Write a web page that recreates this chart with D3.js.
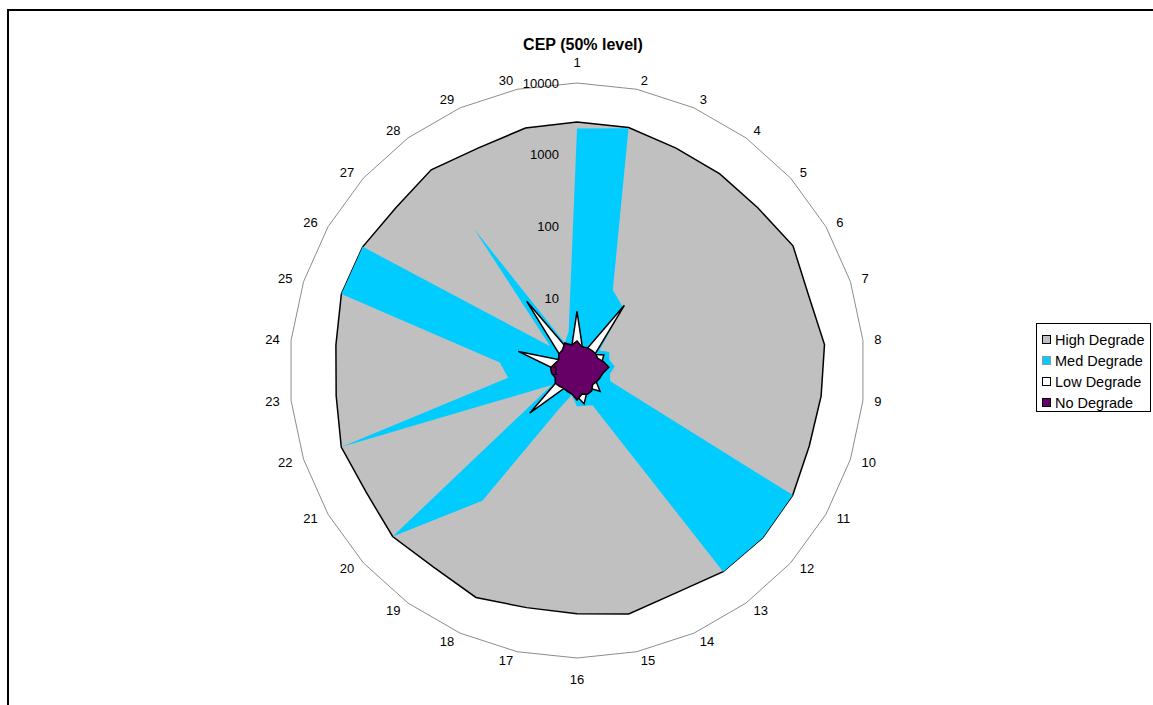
<!DOCTYPE html>
<html>
<head>
<meta charset="utf-8">
<script src="https://cdn.jsdelivr.net/npm/d3@7/dist/d3.min.js"></script>
<style>
  html, body { margin: 0; padding: 0; background: #ffffff; }
  svg { display: block; }
  text { font-family: "Liberation Sans", Arial, sans-serif; fill: #000; }
</style>
</head>
<body>
<svg id="chart" width="1153" height="705"></svg>
<script>
// ---- data ----
const categories = ["1","2","3","4","5","6","7","8","9","10","11","12","13","14","15",
                    "16","17","18","19","20","21","22","23","24","25","26","27","28","29","30"];
const seriesNames = ["High Degrade", "Med Degrade", "Low Degrade", "No Degrade"];
const highDegrade = [2860, 2860, 2440, 2400, 2420, 2950, 2440, 2900, 2600, 2500,
                     2925, 3000, 2880, 2440, 2900, 2420, 2360, 2860, 2440, 2830,
                     2440, 2810, 2340, 2360, 2800, 2770, 2440, 2825, 2440, 2810];
const medDegrade  = [2320, 2800, 16.8, 12.2, 2.62, 3.28, 2.98, 3.38, 2.88, 3.07,
                     2925, 3000, 2880, 3.38, 3.18, 3.18, 2.23, 3.61, 174, 2830,
                     2.54, 2810, 9.2, 12, 2800, 2770, 3.18, 275, 2.62, 3.61];
const lowDegrade  = [6.64, 2.23, 2.09, 13.2, 2.16, 2.70, 2.30, 2.62, 2.16, 2.09,
                     2.03, 2.70, 2.03, 2.16, 2.98, 2.30, 2.03, 2.03, 2.03, 7.7,
                     2.16, 2.03, 2.16, 2.23, 7.22, 2.03, 2.09, 15.5, 2.16, 2.23];
const noDegrade   = [2.58, 2.16, 2.23, 2.23, 2.23, 2.16, 2.46, 2.79, 2.30, 2.16,
                     2.06, 1.96, 2.23, 2.30, 2.16, 2.58, 2.16, 2.09, 2.03, 2.13,
                     2.23, 2.09, 2.27, 2.34, 2.09, 1.96, 2.19, 2.23, 2.62, 2.30];
const tickValues = [1, 10, 100, 1000, 10000];
const tickLabels = ["1", "10", "100", "1000", "10000"];
const title = "CEP (50% level)";

// ---- layout ----
const svg = d3.select("#chart");
const cx = 577, cy = 370.5, R = 287.5;
const r = d3.scaleLog().domain([1, 10000]).range([0, R]);
const angle = d3.scaleLinear().domain([0, categories.length]).range([0, 2 * Math.PI]);

const series = [
  { name: seriesNames[0], values: highDegrade, fill: "#C0C0C0", stroke: "#000", sw: 1.5 },
  { name: seriesNames[1], values: medDegrade,  fill: "#00CCFF", stroke: "none", sw: 0 },
  { name: seriesNames[2], values: lowDegrade,  fill: "#FFFFFF", stroke: "#000", sw: 1.5 },
  { name: seriesNames[3], values: noDegrade,   fill: "#660066", stroke: "#000", sw: 1.5 }
];

// frame
svg.append("rect").attr("x", 8).attr("y", 10).attr("width", 1300).attr("height", 900)
  .attr("fill", "none").attr("stroke", "#000").attr("stroke-width", 2);

const g = svg.append("g").attr("transform", `translate(${cx},${cy})`);

const radial = d3.lineRadial()
  .angle((d, i) => angle(i))
  .radius(d => r(d))
  .curve(d3.curveLinearClosed);

// outer web
g.append("path")
  .attr("d", radial(categories.map(() => 10000)))
  .attr("fill", "none").attr("stroke", "#8c8c8c").attr("stroke-width", 1);

// series
series.forEach(s => {
  g.append("path")
    .attr("d", radial(s.values))
    .attr("fill", s.fill)
    .attr("stroke", s.stroke)
    .attr("stroke-width", s.sw)
    .attr("stroke-linejoin", "miter");
});

// tick labels
g.selectAll("text.tick").data(tickValues).join("text")
  .attr("class", "tick")
  .attr("x", -18)
  .attr("y", d => -r(d))
  .attr("dy", "0.35em")
  .attr("text-anchor", "end")
  .style("font-size", "13px")
  .text((d, i) => tickLabels[i]);

// category labels
categories.forEach((c, i) => {
  const a = angle(i);
  const s = Math.sin(a), co = Math.cos(a);
  const vx = R * s, vy = -R * co;
  const w = c.length * 7.2;
  let lx, ly;
  if (Math.abs(s) < 0.01) {
    lx = vx; ly = vy - Math.sign(co) * 21;
  } else {
    const gap = 2 + 9.5 * Math.abs(s);
    lx = vx + Math.sign(s) * (w / 2 + gap);
    ly = vy - co * 9;
  }
  g.append("text")
    .attr("x", lx).attr("y", ly).attr("dy", "0.35em")
    .attr("text-anchor", "middle")
    .style("font-size", "13px")
    .text(c);
});

// title
svg.append("text").attr("x", 583).attr("y", 50)
  .attr("text-anchor", "middle")
  .style("font-size", "16px").style("font-weight", "bold")
  .text(title);

// legend
const lg = svg.append("g");
lg.append("rect").attr("x", 1036.5).attr("y", 323.5).attr("width", 114).attr("height", 88)
  .attr("fill", "#fff").attr("stroke", "#000").attr("stroke-width", 1);
series.forEach((s, i) => {
  const y = 340 + i * 21;
  lg.append("rect").attr("x", 1042.5).attr("y", y - 4.5).attr("width", 8).attr("height", 8)
    .attr("fill", s.fill).attr("stroke", s.stroke === "none" ? "#999" : "#000").attr("stroke-width", 1);
  lg.append("text").attr("x", 1055).attr("y", y).attr("dy", "0.35em")
    .style("font-size", "14.5px").text(s.name);
});
</script>
</body>
</html>
